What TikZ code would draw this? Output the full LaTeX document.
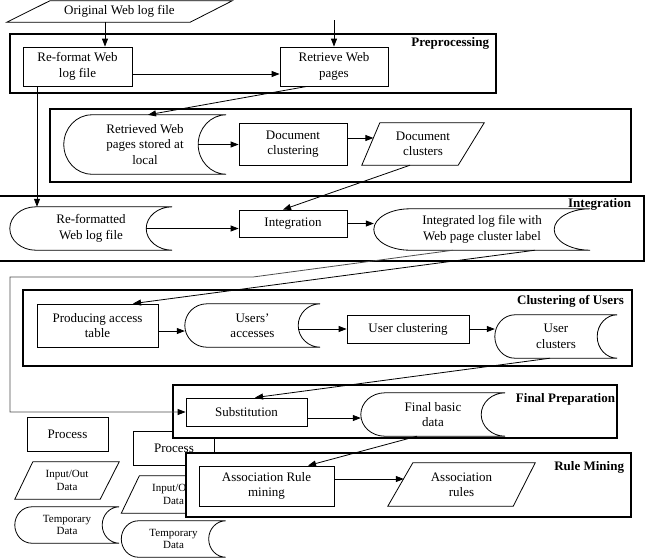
\documentclass[tikz,border=0pt]{standalone}
\usepackage{fontspec}
\setmainfont{Liberation Serif}
\usetikzlibrary{arrows.meta,calc}
\newcommand\fs{\fontsize{13}{15.5}\selectfont}
\newcommand\fsl{\fontsize{11}{12.5}\selectfont}
\newcommand\tmpd[2]{%
  \draw[shp] let \p1=(#1.north west), \p2=(#1.south east), \p3=(#1.west),
    \p4=($(#1.north west)!0.448!(#1.west)$), \p5=($(#1.south west)!0.448!(#1.west)$) in
    (\x1+#2,\y1) -- (\x2,\y1)
    .. controls (\x2-0.552*#2,\y1) and (\x2-#2,\y4) .. (\x2-#2,\y3)
    .. controls (\x2-#2,\y5) and (\x2-0.552*#2,\y2) .. (\x2,\y2)
    -- (\x1+#2,\y2)
    .. controls (\x1+0.448*#2,\y2) and (\x1,\y5) .. (\x1,\y3)
    .. controls (\x1,\y4) and (\x1+0.448*#2,\y1) .. cycle;
  \coordinate (#1-in) at ([xshift=-#2]#1.east);
}
\newcommand\para[3]{\draw[shp] ([xshift=#2]#1.north west) -- (#1.north east) -- ([xshift=-#3]#1.south east) -- (#1.south west) -- cycle;}
\tikzset{
 shp/.style={draw, line width=0.8pt},
 box/.style={draw, line width=0.8pt, align=center, inner sep=0pt, font=\fs},
 gh/.style={inner sep=0pt, align=center, font=\fs},
 frm/.style={draw, line width=2.4pt, fill=white},
 lbl/.style={font=\fs\bfseries, inner sep=0pt, anchor=north east},
 arr/.style={line width=0.8pt, -{Triangle[length=8pt,width=6pt]}},
}
\begin{document}
\begin{tikzpicture}[x=1pt,y=-1pt]
\useasboundingbox (0,0) rectangle (647,558);
% legend (two copies)
\node[box, minimum width=81pt, minimum height=34pt] (proc1) at (67.5,434) {Process};
\node[gh, font=\fsl, minimum width=104pt, minimum height=37pt] (io1) at (67,480.5) {Input/Out\\Data}; \para{io1}{18pt}{19pt}
\node[gh, font=\fsl, minimum width=104pt, minimum height=36pt] (tmp1) at (67,525) {Temporary\\Data}; \tmpd{tmp1}{17pt}
\node[box, minimum width=81pt, minimum height=34pt] (proc2) at (174,448) {Process};
\node[gh, font=\fsl, minimum width=104pt, minimum height=37pt] (io2) at (173.5,494.5) {Input/Out\\Data}; \para{io2}{18pt}{19pt}
\node[gh, font=\fsl, minimum width=104pt, minimum height=36pt] (tmp2) at (173.5,539) {Temporary\\Data}; \tmpd{tmp2}{17pt}
% frames
\node[frm, minimum width=486pt, minimum height=59pt] (fpre) at (253,63.5) {};
\node[frm, line width=1.8pt, minimum width=581pt, minimum height=73pt] (fdoc) at (340.5,145.5) {};
\node[frm, minimum width=654pt, minimum height=65pt] (fint) at (317,228.5) {};
\node[frm, minimum width=609pt, minimum height=76pt] (fclu) at (327.5,328) {};
\node[frm, minimum width=444pt, minimum height=53pt] (ffin) at (395,411.5) {};
\node[frm, minimum width=445pt, minimum height=64pt] (frul) at (408.5,485) {};
\node[lbl] (lpre) at ([xshift=-8pt,yshift=-4pt]fpre.north east) {Preprocessing};
\node[lbl] (lint) at ([xshift=-14pt,yshift=-3pt]fint.north east) {Integration};
\node[lbl] (lclu) at ([xshift=-9pt,yshift=-6pt]fclu.north east) {Clustering of Users};
\node[lbl] (lfin) at ([xshift=-3pt,yshift=-9pt]ffin.north east) {Final Preparation};
\node[lbl] (lrul) at ([xshift=-8pt,yshift=-9pt]frul.north east) {Rule Mining};
% nodes
\node[gh, minimum width=225pt, minimum height=21pt] (orig) at (119.5,11.5) {Original Web log file}; \para{orig}{43pt}{42pt}
\node[box, minimum width=109pt, minimum height=39pt] (refmt) at (77.5,66.5) {Re-format Web\\log file};
\node[box, minimum width=108pt, minimum height=39pt] (retr) at (334,66.5) {Retrieve Web\\pages};
\node[gh, minimum width=162pt, minimum height=59pt] (stor) at (145,144.5) {Retrieved Web\\pages stored at\\local}; \tmpd{stor}{28pt}
\node[box, minimum width=108pt, minimum height=42pt] (dclu) at (293,144) {Document\\clustering};
\node[gh, minimum width=122pt, minimum height=42pt] (dcl) at (423,144) {Document\\clusters}; \para{dcl}{18pt}{26pt}
\node[gh, minimum width=162pt, minimum height=43pt] (rwl) at (91,228.5) {Re-formatted\\Web log file}; \tmpd{rwl}{26pt}
\node[box, minimum width=108pt, minimum height=27pt] (integ) at (293,223.5) {Integration};
\node[gh, minimum width=216pt, minimum height=41pt] (ilf) at (482,229.5) {Integrated log file with\\Web page cluster label}; \tmpd{ilf}{36pt}
\node[box, minimum width=121pt, minimum height=43pt] (pat) at (97.5,325.5) {Producing access\\table};
\node[gh, minimum width=135pt, minimum height=43pt] (ua) at (252.5,325.5) {Users’\\accesses}; \tmpd{ua}{22pt}
\node[box, minimum width=122pt, minimum height=28pt] (uc) at (408,329) {User clustering};
\node[gh, minimum width=122pt, minimum height=43pt] (ucl) at (556,336.5) {User\\clusters}; \tmpd{ucl}{20pt}
\node[box, minimum width=121pt, minimum height=28pt] (subst) at (246.5,412) {Substitution};
\node[gh, minimum width=144pt, minimum height=43pt] (fbd) at (433,414.5) {Final basic\\data}; \tmpd{fbd}{24pt}
\node[box, minimum width=135pt, minimum height=40pt] (arm) at (266.5,486) {Association Rule\\mining};
\node[gh, minimum width=147pt, minimum height=43pt] (ar) at (461.5,484.5) {Association\\rules}; \para{ar}{25pt}{22pt}
% connectors
\coordinate (ob) at ([xshift=-14.5pt]orig.south);
\draw[arr] (ob) -- (ob |- refmt.north);
\coordinate (rtop) at (334,20);
\draw[arr] (rtop) -- (retr.north);
\draw[arr] ([yshift=-7.5pt]refmt.east) -- ([yshift=-7.5pt]retr.west);
\draw[arr] ([xshift=-27pt]retr.south) -- ([xshift=3pt]stor.north);
\draw[arr] (stor-in) -- (stor-in -| dclu.west);
\draw[arr] ([yshift=6pt]dclu.east) -- ([xshift=11.6pt,yshift=6pt]dcl.west);
\draw[arr] ([xshift=-13pt]dcl.south) -- ([xshift=-10pt]integ.north);
\coordinate (rfb) at ([xshift=-40.5pt]refmt.south);
\draw[arr] (rfb) -- (rfb |- rwl.north);
\draw[arr] (rwl-in) -- (rwl-in -| integ.west);
\draw[arr] (integ.east) -- (integ.east -| ilf.west);
\coordinate (fbk1) at (253,277);
\coordinate (fbk2) at (10,277);
\draw[line width=0.8pt, black!70, -{Triangle[length=8pt,width=6pt,black]}] ([xshift=-29pt]ilf.south) -- (fbk1) -- (fbk2) |- (subst.west);
\draw[arr] ([xshift=53pt]ilf.south) -- ([xshift=35.5pt]pat.north);
\coordinate (pe) at ([yshift=-5.5pt]pat.east);
\draw[arr] (pe) -- (pe -| ua.west);
\draw[arr] (uc.west -| ua-in) -- (uc.west);
\draw[arr] (uc.east) -- (uc.east -| ucl.west);
\draw[arr] ([xshift=-6pt]ucl.south) -- ([xshift=8.5pt]subst.north);
\coordinate (se) at ([yshift=-6pt]subst.east);
\draw[arr] (se) -- (se -| fbd.west);
\draw[arr] ([xshift=-16pt]fbd.south) -- ([xshift=41.5pt]arm.north);
\draw[arr] ([yshift=7pt]arm.east) -- ([xshift=16pt,yshift=5.5pt]ar.west);
\end{tikzpicture}
\end{document}
